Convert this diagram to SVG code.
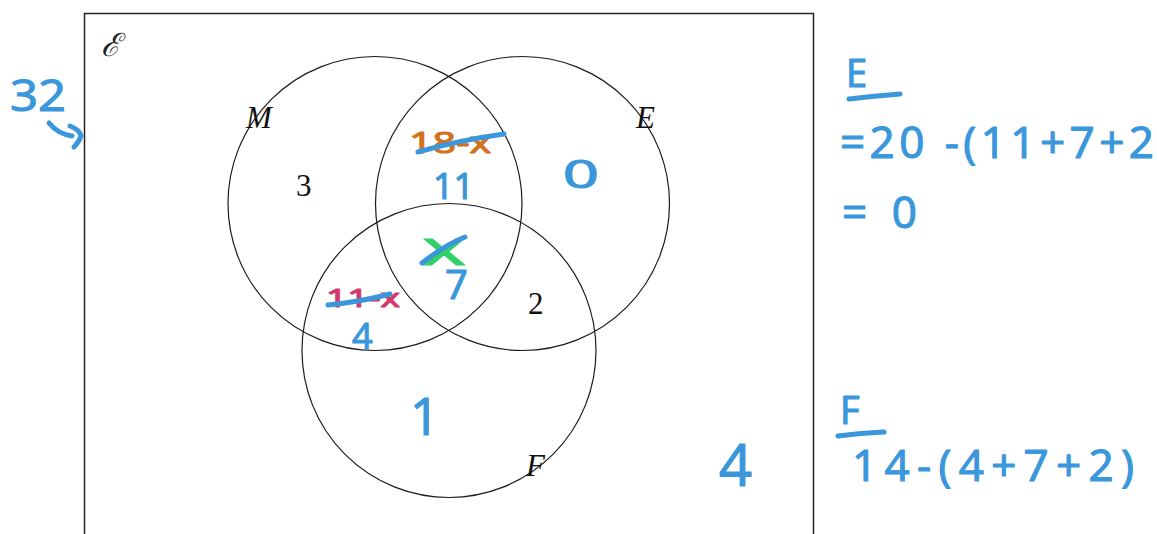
<svg xmlns="http://www.w3.org/2000/svg" width="1157" height="534" viewBox="0 0 1157 534">
<style>
.frame{fill:none;stroke:#222;stroke-width:1.5}
.circ{fill:none;stroke:#1a1a1a;stroke-width:1.2}
.lab{font-family:"Liberation Serif",serif;font-style:italic;font-size:31px;fill:#111}
.num{font-family:"Liberation Serif",serif;font-size:31px;fill:#111}
.hw{font-family:"Open Sans","Noto Sans",sans-serif;fill:#3a97dc;stroke:#3a97dc;stroke-width:1.2;stroke-linejoin:round}
.orange{fill:#d2721c;stroke:#d2721c}
.green{fill:#33d06a;stroke:#33d06a}
.pink{fill:#d23a6c;stroke:#d23a6c}
.strike{fill:none;stroke:#3a97dc;stroke-width:5;stroke-linecap:round}
.ul{fill:none;stroke:#3a97dc;stroke-width:5;stroke-linecap:round}
</style>
<rect width="1157" height="534" fill="#fff"/>
<g id="universe">
<path class="frame" d="M84.5,540 V13.5 H813.5 V540"/>
<text x="101" y="56" font-family="DejaVu Serif,serif" font-style="italic" font-size="32" fill="#222">ℰ</text>
</g>
<g id="set-M">
<circle class="circ" cx="375" cy="203.5" r="147"/>
<text class="lab" x="246" y="128">M</text>
<text class="num" x="296" y="196">3</text>
</g>
<g id="set-E">
<circle class="circ" cx="522.5" cy="203.5" r="147"/>
<text class="lab" x="636" y="128">E</text>
<text class="num" x="528" y="314">2</text>
</g>
<g id="set-F">
<circle class="circ" cx="449" cy="350.5" r="147"/>
<text class="lab" x="526" y="476">F</text>
</g>
<g id="annotations">
<text class="hw" x="10" y="111" font-size="44" textLength="56" lengthAdjust="spacingAndGlyphs">32</text>
<text class="hw orange" x="409" y="153" font-size="30" textLength="82" lengthAdjust="spacingAndGlyphs">18-x</text>
<path class="strike" d="M418,152 Q460,140 504,134"/>
<text class="hw" x="433" y="199" font-size="36">11</text>
<text class="hw green" x="422" y="265" font-size="48" textLength="44" lengthAdjust="spacingAndGlyphs">x</text>
<path class="strike" d="M422,263 Q445,245 465,237"/>
<text class="hw" x="445" y="299" font-size="40">7</text>
<text class="hw pink" x="326" y="307" font-size="26" textLength="74" lengthAdjust="spacingAndGlyphs">11-x</text>
<path class="strike" d="M328,305 Q360,302 390,294"/>
<text class="hw" x="352" y="349" font-size="36">4</text>
<text class="hw" x="563" y="188" font-size="38" textLength="36" lengthAdjust="spacingAndGlyphs">0</text>
<text class="hw" x="410" y="435" font-size="52">1</text>
<text class="hw" x="719" y="486" font-size="58">4</text>
<text class="hw" x="846" y="87" font-size="38">E</text>
<path class="ul" d="M849,99 Q875,96 900,94"/>
<text class="hw" x="840" y="158" font-size="44" textLength="314" lengthAdjust="spacing">=20 -(11+7+2</text>
<text class="hw" x="842" y="228" font-size="44" textLength="75" lengthAdjust="spacing">=0</text>
<text class="hw" x="840" y="424" font-size="38">F</text>
<path class="ul" d="M838,436 Q860,433 884,432"/>
<text class="hw" x="852" y="481" font-size="44" textLength="282" lengthAdjust="spacing">14-(4+7+2)</text>
</g>
<g id="connectors">
<path fill="none" stroke="#3a97dc" stroke-width="5" stroke-linecap="round" stroke-linejoin="round" d="M49,123 Q58,134 72,136 M70,126 Q80,130 81,136 Q79,142 74,147"/>
</g>
</svg>
